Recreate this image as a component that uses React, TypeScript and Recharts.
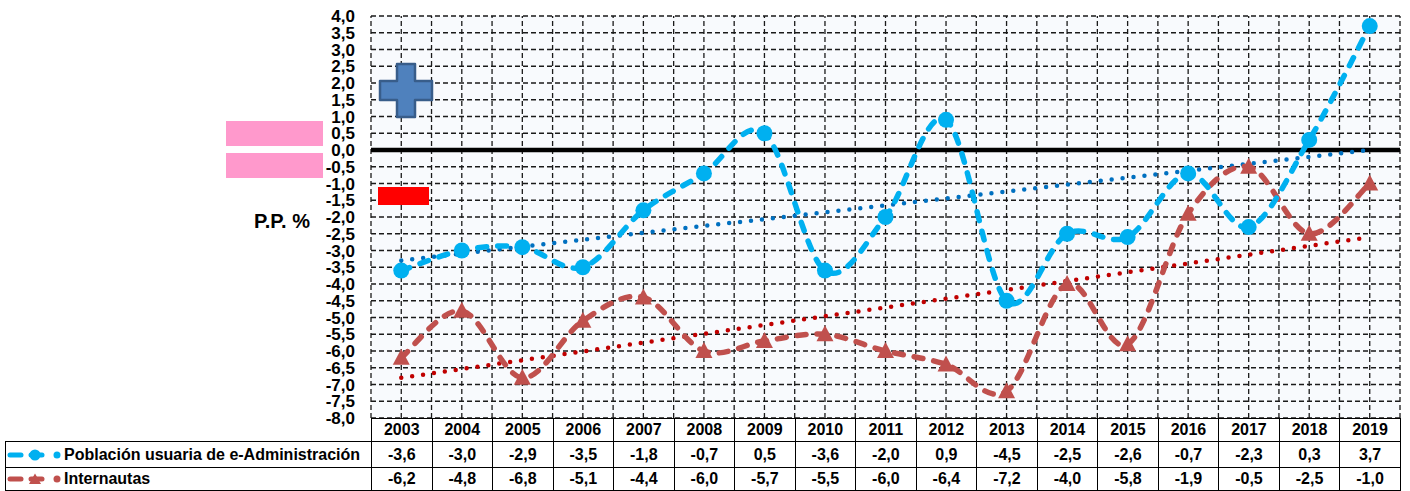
import React from 'react';
import { LineChart, Line, XAxis, YAxis, CartesianGrid, ReferenceLine } from 'recharts';

const years = ['2003', '2004', '2005', '2006', '2007', '2008', '2009', '2010', '2011', '2012', '2013', '2014', '2015', '2016', '2017', '2018', '2019'];
const eAdmin = [-3.6, -3.0, -2.9, -3.5, -1.8, -0.7, 0.5, -3.6, -2.0, 0.9, -4.5, -2.5, -2.6, -0.7, -2.3, 0.3, 3.7];
const internautas = [-6.2, -4.8, -6.8, -5.1, -4.4, -6.0, -5.7, -5.5, -6.0, -6.4, -7.2, -4.0, -5.8, -1.9, -0.5, -2.5, -1.0];
// linear trend end values (first year, last year)
const eAdminTrend = [-3.3, 0.0];
const internautasTrend = [-6.8, -2.6];
const yTicks = [4, 3.5, 3, 2.5, 2, 1.5, 1, 0.5, 0, -0.5, -1, -1.5, -2, -2.5, -3, -3.5, -4, -4.5, -5, -5.5, -6, -6.5, -7, -7.5, -8];
const xGridTicks = [-0.5, 0, 0.5, 1, 1.5, 2, 2.5, 3, 3.5, 4, 4.5, 5, 5.5, 6, 6.5, 7, 7.5, 8, 8.5, 9, 9.5, 10, 10.5, 11, 11.5, 12, 12.5, 13, 13.5, 14, 14.5, 15, 15.5, 16, 16.5];
const X_DOMAIN = [-0.5, 16.5];

const seriesNames = ['Población usuaria de e-Administración', 'Internautas'];

const data = years.map((y, i) => ({
  i,
  year: y,
  a: eAdmin[i],
  b: internautas[i],
  ta: i === 0 ? eAdminTrend[0] : i === years.length - 1 ? eAdminTrend[1] : null,
  tb: i === 0 ? internautasTrend[0] : i === years.length - 1 ? internautasTrend[1] : null,
}));

const fmt = (v: number) => v.toFixed(1).replace('.', ',');

const BLUE = '#00B0F0';
const RED = '#C0504D';
const FONT = '"Liberation Sans", Arial, sans-serif';

const excelSmooth = (context: any) => {
  let pts: number[][] = [];
  return {
    areaStart() {},
    areaEnd() {},
    lineStart() {
      pts = [];
    },
    point(x: number, y: number) {
      pts.push([+x, +y]);
    },
    lineEnd() {
      const n = pts.length;
      if (!n) return;
      context.moveTo(pts[0][0], pts[0][1]);
      if (n === 1) {
        context.lineTo(pts[0][0], pts[0][1]);
        return;
      }
      for (let k = 0; k < n - 1; k++) {
        const p0 = pts[k - 1] || pts[k];
        const p1 = pts[k];
        const p2 = pts[k + 1];
        const p3 = pts[k + 2] || p2;
        context.bezierCurveTo(
          p1[0] + (p2[0] - p0[0]) / 6,
          p1[1] + (p2[1] - p0[1]) / 6,
          p2[0] - (p3[0] - p1[0]) / 6,
          p2[1] - (p3[1] - p1[1]) / 6,
          p2[0],
          p2[1]
        );
      }
    },
  };
};

const CircleDot = (props: any) => {
  const { cx, cy } = props;
  if (cx == null || cy == null) return null;
  return <circle cx={cx} cy={cy} r={8} fill={BLUE} stroke="none" />;
};

const TriDot = (props: any) => {
  const { cx, cy } = props;
  if (cx == null || cy == null) return null;
  return <polygon points={`${cx},${cy - 9} ${cx - 8.5},${cy + 7} ${cx + 8.5},${cy + 7}`} fill={RED} stroke="none" />;
};

const YTick = (props: any) => {
  const { x, y, payload } = props;
  return (
    <text x={x} y={y} dy={6} textAnchor="end" fontFamily={FONT} fontWeight="bold" fontSize={17} fill="#000">
      {fmt(payload.value)}
    </text>
  );
};

const PLOT_L = 371;
const PLOT_R = 1400;
const COL_W = (PLOT_R - PLOT_L) / years.length;

const LegendKey = ({ kind }: { kind: 'a' | 'b' }) => {
  const c = kind === 'a' ? BLUE : RED;
  return (
    <svg width={58} height={12} style={{ display: 'block' }}>
      <line x1={4} y1={6} x2={15} y2={6} stroke={c} strokeWidth={5} strokeLinecap="round" />
      <line x1={25} y1={6} x2={36} y2={6} stroke={c} strokeWidth={5} strokeLinecap="round" />
      {kind === 'a' ? <circle cx={29} cy={6} r={5.5} fill={c} /> : <polygon points="29,0.5 23,11 35,11" fill={c} />}
      <circle cx={51} cy={6} r={3.5} fill={c} />
    </svg>
  );
};

export default function App() {
  const cellBase: React.CSSProperties = {
    border: '1.5px solid #000',
    textAlign: 'center',
    padding: 0,
    fontFamily: FONT,
    fontWeight: 'bold',
    fontSize: 16,
    color: '#000',
    width: COL_W,
    boxSizing: 'border-box',
    background: '#fff',
  };
  return (
    <div style={{ position: 'absolute', left: 0, top: 0, width: 1410, height: 491, background: '#fff', overflow: 'hidden' }}>
      <div style={{ position: 'absolute', left: 0, top: 0 }}>
        <LineChart width={1410} height={491} data={data} margin={{ top: 16, right: 10, bottom: 73, left: 0 }}>
          <CartesianGrid stroke="#1a1a1a" strokeWidth={1.3} strokeDasharray="5 3" fill="#F8FAFD" horizontal vertical={false} />
          <XAxis
            dataKey="i"
            type="number"
            domain={X_DOMAIN}
            ticks={xGridTicks}
            interval={0}
            tick={false}
            tickLine={false}
            axisLine={false}
            height={0}
          />
          <YAxis
            type="number"
            domain={[-8, 4]}
            ticks={yTicks}
            interval={0}
            width={371}
            tickLine={false}
            axisLine={false}
            tickSize={6}
            tickMargin={10}
            tick={<YTick />}
          />
          {xGridTicks.map((t) => (
            <ReferenceLine key={`vx${t}`} x={t} stroke="#1a1a1a" strokeWidth={1.3} strokeDasharray="5 3" />
          ))}
          <ReferenceLine y={0} stroke="#000" strokeWidth={4.5} />
          <Line
            dataKey="tb"
            type="linear"
            connectNulls
            stroke="#C00000"
            strokeWidth={4.5}
            strokeDasharray="0 11"
            strokeLinecap="round"
            dot={false}
            activeDot={false}
            isAnimationActive={false}
          />
          <Line
            dataKey="ta"
            type="linear"
            connectNulls
            stroke="#0070C0"
            strokeWidth={4.5}
            strokeDasharray="0 11"
            strokeLinecap="round"
            dot={false}
            activeDot={false}
            isAnimationActive={false}
          />
          <Line
            dataKey="b"
            name={seriesNames[1]}
            type={excelSmooth as any}
            stroke={RED}
            strokeWidth={5.5}
            strokeDasharray="9 11"
            strokeLinecap="round"
            dot={<TriDot />}
            activeDot={false}
            isAnimationActive={false}
          />
          <Line
            dataKey="a"
            name={seriesNames[0]}
            type={excelSmooth as any}
            stroke={BLUE}
            strokeWidth={5.5}
            strokeDasharray="9 11"
            strokeLinecap="round"
            dot={<CircleDot />}
            activeDot={false}
            isAnimationActive={false}
          />
        </LineChart>
      </div>

      {/* decorative symbols */}
      <div style={{ position: 'absolute', left: 226, top: 121, width: 97, height: 25, background: '#FF99CC' }} />
      <div style={{ position: 'absolute', left: 226, top: 153, width: 97, height: 25, background: '#FF99CC' }} />
      <div style={{ position: 'absolute', left: 378, top: 187, width: 51, height: 18, background: '#FF0000' }} />
      <svg style={{ position: 'absolute', left: 0, top: 0 }} width={500} height={140}>
        <path
          d="M397,64 H415 V81 H432 V100 H415 V117 H397 V100 H380 V81 H397 Z"
          fill="#4F81BD"
          stroke="#385D8A"
          strokeWidth={2.5}
          strokeLinejoin="round"
        />
      </svg>
      <div
        style={{
          position: 'absolute',
          left: 254,
          top: 210,
          fontFamily: FONT,
          fontWeight: 'bold',
          fontSize: 20,
          color: '#000',
          whiteSpace: 'nowrap',
        }}
      >
        P.P. %
      </div>

      {/* data table */}
      <table
        style={{
          position: 'absolute',
          left: 5,
          top: 418,
          borderCollapse: 'collapse',
          tableLayout: 'fixed',
          width: PLOT_R - 5,
        }}
      >
        <colgroup>
          <col style={{ width: PLOT_L - 5 }} />
          {years.map((y) => (
            <col key={y} style={{ width: COL_W }} />
          ))}
        </colgroup>
        <tbody>
          <tr style={{ height: 23 }}>
            <td style={{ border: 'none', borderBottom: '1.5px solid #000', padding: 0, background: 'transparent' }} />
            {years.map((y) => (
              <td key={y} style={cellBase}>
                {y}
              </td>
            ))}
          </tr>
          <tr style={{ height: 26 }}>
            <td style={{ ...cellBase, textAlign: 'left', width: undefined }}>
              <div style={{ display: 'flex', alignItems: 'center', whiteSpace: 'nowrap' }}>
                <LegendKey kind="a" />
                <span>{seriesNames[0]}</span>
              </div>
            </td>
            {eAdmin.map((v, k) => (
              <td key={k} style={cellBase}>
                {fmt(v)}
              </td>
            ))}
          </tr>
          <tr style={{ height: 23 }}>
            <td style={{ ...cellBase, textAlign: 'left', width: undefined }}>
              <div style={{ display: 'flex', alignItems: 'center', whiteSpace: 'nowrap' }}>
                <LegendKey kind="b" />
                <span>{seriesNames[1]}</span>
              </div>
            </td>
            {internautas.map((v, k) => (
              <td key={k} style={cellBase}>
                {fmt(v)}
              </td>
            ))}
          </tr>
        </tbody>
      </table>
    </div>
  );
}
